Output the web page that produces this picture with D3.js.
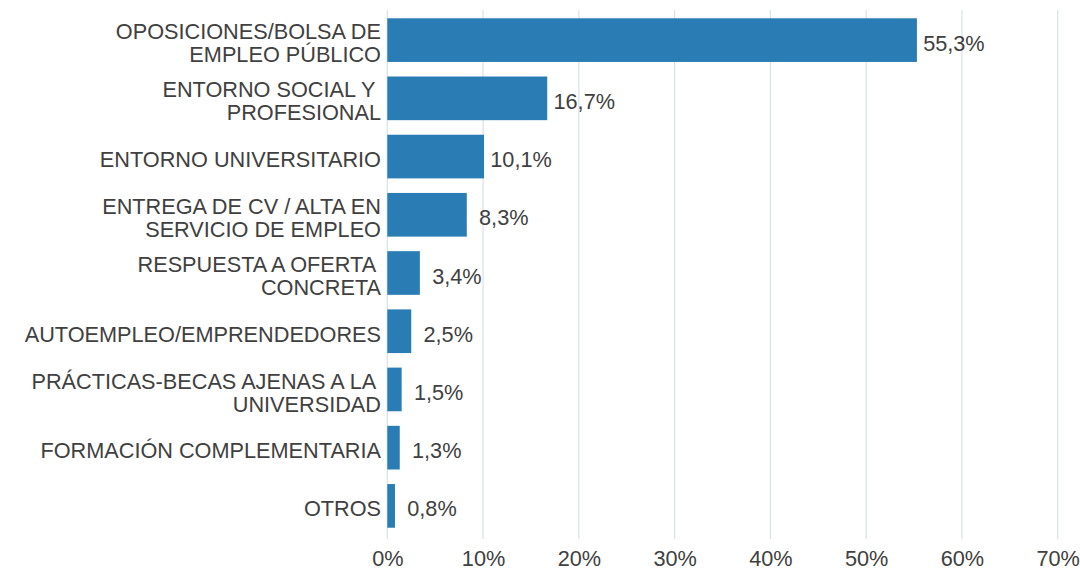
<!DOCTYPE html>
<html>
<head>
<meta charset="utf-8">
<script src="https://cdn.jsdelivr.net/npm/d3@7"></script>
<style>
  html, body { margin: 0; padding: 0; background: #ffffff; }
  svg text { font-family: "Liberation Sans", Arial, sans-serif; fill: #404040; }
</style>
</head>
<body>
<svg id="chart" width="1080" height="572"></svg>
<script>
// Category labels (each entry is a list of lines)
const categories = [
  ["OPOSICIONES/BOLSA DE", "EMPLEO PÚBLICO"],
  ["ENTORNO SOCIAL Y ", "PROFESIONAL"],
  ["ENTORNO UNIVERSITARIO"],
  ["ENTREGA DE CV / ALTA EN", "SERVICIO DE EMPLEO"],
  ["RESPUESTA A OFERTA ", "CONCRETA"],
  ["AUTOEMPLEO/EMPRENDEDORES"],
  ["PRÁCTICAS-BECAS AJENAS A LA ", "UNIVERSIDAD"],
  ["FORMACIÓN COMPLEMENTARIA"],
  ["OTROS"]
];
// Share of respondents, in percent
const values = [55.3, 16.7, 10.1, 8.3, 3.4, 2.5, 1.5, 1.3, 0.8];
// Axis ticks, in percent
const ticks = [0, 10, 20, 30, 40, 50, 60, 70];

const svg = d3.select("#chart");
const plotLeft = 387.3, plotRight = 1057.7, plotTop = 11, plotBottom = 535;
const gridTop = 10, gridBottom = 539;
const fontSize = 21.7;
const textShift = 3;

const x = d3.scaleLinear().domain([0, 70]).range([plotLeft, plotRight]);
const y = d3.scaleBand()
  .domain(d3.range(categories.length))
  .range([plotTop, plotBottom])
  .paddingInner(0.25)
  .paddingOuter(0.125);

const fmt = v => d3.format(".1f")(v).replace(".", ",") + "%";

// Vertical grid lines
svg.append("g")
  .selectAll("line")
  .data(ticks)
  .join("line")
  .attr("x1", d => x(d)).attr("x2", d => x(d))
  .attr("y1", gridTop).attr("y2", gridBottom)
  .attr("stroke", "#dce2ea")
  .attr("stroke-width", 1.3);

// Bars
svg.append("g")
  .selectAll("rect")
  .data(values)
  .join("rect")
  .attr("x", x(0))
  .attr("y", (d, i) => y(i))
  .attr("width", d => x(d) - x(0))
  .attr("height", y.bandwidth())
  .attr("fill", "#2a7db4");

// Value labels, centred in a box just past the bar end
svg.append("g")
  .selectAll("text")
  .data(values)
  .join("text")
  .attr("text-anchor", "middle")
  .attr("x", d => x(d) + 37)
  .attr("y", (d, i) => y(i) + y.bandwidth() / 2 + textShift)
  .attr("dy", "0.35em")
  .attr("font-size", fontSize)
  .text(d => fmt(d));

// Category labels
const lineH = 23;
const cat = svg.append("g")
  .selectAll("text")
  .data(categories)
  .join("text")
  .attr("text-anchor", "end")
  .attr("font-size", fontSize)
  .style("white-space", "pre")
  .attr("transform", (d, i) => `translate(381,${y(i) + y.bandwidth() / 2 + textShift})`);
cat.selectAll("tspan")
  .data(d => d.map((t, k) => ({ t, k, n: d.length })))
  .join("tspan")
  .attr("x", 0)
  .attr("y", d => (d.k - (d.n - 1) / 2) * lineH)
  .attr("dy", "0.35em")
  .text(d => d.t);

// Bottom axis tick labels
const axis = d3.axisBottom(x).tickValues(ticks).tickFormat(d => d + "%").tickSize(0).tickPadding(0);
const ax = svg.append("g").attr("transform", `translate(0,${gridBottom})`).call(axis);
ax.select(".domain").remove();
ax.selectAll("text")
  .attr("font-size", fontSize)
  .attr("font-family", "Liberation Sans, Arial, sans-serif")
  .attr("fill", "#404040")
  .attr("dy", "0.35em")
  .attr("y", 19);
</script>
</body>
</html>
